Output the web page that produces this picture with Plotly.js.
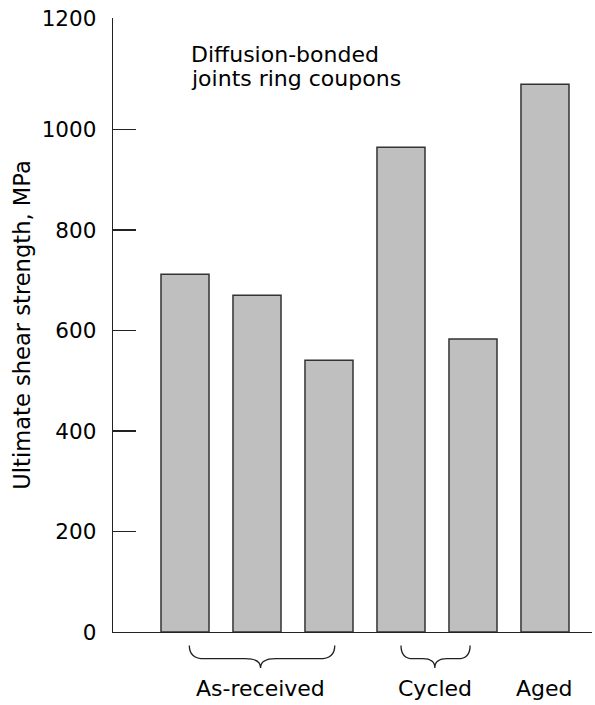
<!DOCTYPE html>
<html>
<head>
<meta charset="utf-8">
<script src="https://cdn.plot.ly/plotly-3.0.1.min.js"></script>
<style>html,body{margin:0;padding:0;background:#fff;}#chart{width:595px;height:705px;}</style>
</head>
<body>
<div id="chart"></div>
<script>
// ---- data ----
const specimens = ["As-received 1", "As-received 2", "As-received 3", "Cycled 1", "Cycled 2", "Aged"];
const xPos = [1, 2, 3, 4, 5, 6];
const shearStrength = [712, 670, 541, 965, 583, 1090]; // MPa
const groupLabels = ["As-received", "Cycled", "Aged"];
const groupCenters = [2.05, 4.47, 6.0];
const yTickVals = [0, 200, 400, 600, 800, 1000, 1222]; // top tick sits at axis end as drawn in the source
const yTickText = ["0", "200", "400", "600", "800", "1000", "1200"];
// braces under grouped bars (start, end, center, curl) in x units
const braces = [[1.06, 3.08, 2.05, 0.21], [4.0, 4.96, 4.47, 0.17]];

const FONT = "DejaVu Sans, Arial, sans-serif";
const TXT = "#000";

const trace = {
  type: "bar",
  x: xPos,
  y: shearStrength,
  hovertext: specimens,
  textposition: "none",
  width: 0.667,
  marker: {color: "#bfbfbf", line: {color: "#333", width: 1.5}}
};

const yTop = -0.0218, yLine = -0.0435, yTip = -0.0586;
function bracePath(b) {
  const [x0, x1, xc, r] = b;
  return `M ${x0},${yTop} Q ${x0},${yLine} ${x0 + r},${yLine} L ${xc - r},${yLine} ` +
         `Q ${xc},${yLine} ${xc},${yTip} Q ${xc},${yLine} ${xc + r},${yLine} ` +
         `L ${x1 - r},${yLine} Q ${x1},${yLine} ${x1},${yTop}`;
}
const shapes = braces.map(b => ({
  type: "path", xref: "x", yref: "paper", path: bracePath(b),
  line: {color: "#222", width: 1.3}
}));

const annotations = groupLabels.map((t, i) => ({
  text: t, x: groupCenters[i], xref: "x", y: -0.0923, yref: "paper",
  xanchor: "center", yanchor: "middle", showarrow: false,
  font: {family: FONT, size: 22, color: TXT}
}));
annotations.push(
  {text: "Diffusion-bonded", x: 0.1593, xref: "paper", y: 0.9405, yref: "paper",
   xanchor: "left", yanchor: "middle", showarrow: false, font: {family: FONT, size: 22, color: TXT}},
  {text: "joints ring coupons", x: 0.1593, xref: "paper", y: 0.9010, yref: "paper",
   xanchor: "left", yanchor: "middle", showarrow: false, font: {family: FONT, size: 22, color: TXT}}
);

const layout = {
  width: 595, height: 705,
  margin: {l: 113, r: 3, t: 18, b: 73},
  paper_bgcolor: "#fff", plot_bgcolor: "#fff",
  showlegend: false,
  xaxis: {
    range: [0, 6.653], showgrid: false, zeroline: false,
    showline: true, linecolor: "#222", linewidth: 1.3,
    ticks: "", showticklabels: false, fixedrange: true
  },
  yaxis: {
    range: [0, 1222], showgrid: false, zeroline: false,
    showline: true, linecolor: "#222", linewidth: 1.3,
    ticks: "inside", ticklen: 23, tickwidth: 1.2, tickcolor: "#222",
    tickmode: "array", tickvals: yTickVals, ticktext: yTickText,
    tickfont: {family: FONT, size: 21.5, color: TXT},
    ticklabelstandoff: 11,
    title: {text: "Ultimate shear strength, MPa", standoff: 4,
            font: {family: FONT, size: 22.6, color: TXT}},
    fixedrange: true
  },
  shapes: shapes,
  annotations: annotations
};

Plotly.newPlot("chart", [trace], layout, {displayModeBar: false, staticPlot: true});
</script>
</body>
</html>
